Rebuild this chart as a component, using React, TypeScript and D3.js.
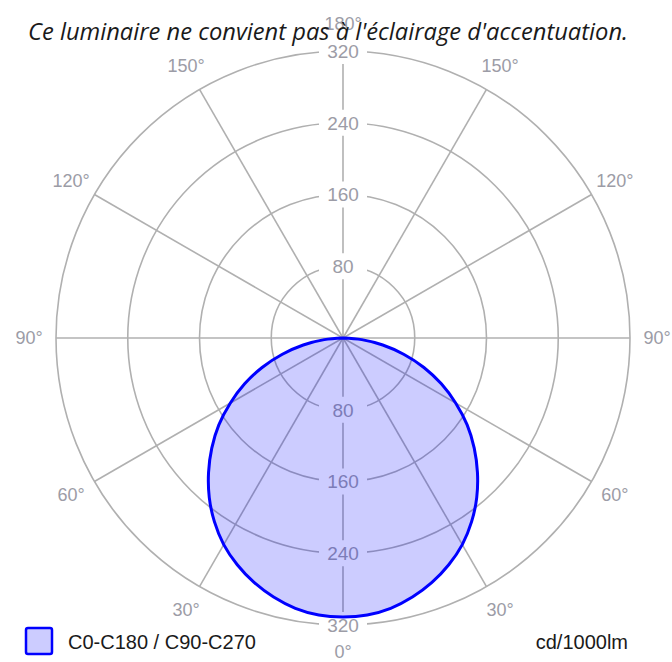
import React from 'react';
import * as d3 from 'd3';

// luminous intensity (cd/1000lm) against gamma angle, same for both C planes
const gammaAngles = [0, 5, 10, 15, 20, 25, 30, 35, 40, 45, 50, 55, 60, 65, 70, 75, 80, 85, 90];
const intensityC0C180 = [311, 310, 306, 299, 290, 279, 266, 250, 232, 212, 191, 169, 145, 121, 96, 70, 45, 21, 0];
const ringValues = [80, 160, 240, 320];
const spokeAngles = [0, 30, 60, 90, 120, 150, 180, 210, 240, 270, 300, 330];
const angleLabels = [0, 30, 60, 90, 120, 150, 180];

const title = "Ce luminaire ne convient pas à l'éclairage d'accentuation.";
const legendLabel = 'C0-C180 / C90-C270';
const unitLabel = 'cd/1000lm';

const W = 672;
const H = 662;
const cx = 343;
const cy = 338;
const R = 287;
const gridColor = '#b0b0b0';
const labelColor = '#9c9ca6';
const labelFont = '"Liberation Sans", Arial, sans-serif';

export default function App() {
  const r = d3.scaleLinear().domain([0, 320]).range([0, R]);
  const rad = (deg: number) => (deg * Math.PI) / 180;

  // gamma measured from straight down; lineRadial angle is from straight up
  const pts: [number, number][] = [];
  for (let i = gammaAngles.length - 1; i >= 0; i--) pts.push([Math.PI + rad(gammaAngles[i]), r(intensityC0C180[i])]);
  for (let i = 1; i < gammaAngles.length; i++) pts.push([Math.PI - rad(gammaAngles[i]), r(intensityC0C180[i])]);
  const curve = d3.lineRadial<[number, number]>()
    .angle((d) => d[0])
    .radius((d) => d[1])
    .curve(d3.curveCatmullRom)(pts) + 'Z';

  const labelR = R + 27;
  const angleLabelPos: { x: number; y: number; t: string }[] = [];
  angleLabels.forEach((g) => {
    const sides = g === 0 || g === 180 ? [1] : [-1, 1];
    sides.forEach((s) => {
      angleLabelPos.push({
        x: cx + s * labelR * Math.sin(rad(g)),
        y: cy + labelR * Math.cos(rad(g)),
        t: `${g}°`,
      });
    });
  });

  return (
    <svg width={W} height={H} style={{ position: 'absolute', left: 0, top: 0, background: '#fff' }}>
      {/* grid */}
      <g stroke={gridColor} strokeWidth={1.6} fill="none">
        {ringValues.map((v) => (
          <circle key={v} cx={cx} cy={cy} r={r(v)} />
        ))}
        {spokeAngles.map((a) => (
          <line
            key={a}
            x1={cx}
            y1={cy}
            x2={cx + R * Math.sin(rad(a))}
            y2={cy + R * Math.cos(rad(a))}
          />
        ))}
      </g>

      {/* ring labels with gaps in the grid */}
      {ringValues.map((v) =>
        [-1, 1].map((s) => (
          <g key={`${v}${s}`} transform={`translate(${cx},${cy + s * r(v)})`}>
            <rect x={-24} y={-13} width={48} height={26} fill="#fff" />
            <text
              textAnchor="middle"
              dy="0.36em"
              fontFamily={labelFont}
              fontSize={19}
              fill={labelColor}
            >
              {v}
            </text>
          </g>
        ))
      )}

      {angleLabelPos.map((d, i) => (
        <text
          key={i}
          x={d.x}
          y={d.y}
          dy="0.34em"
          textAnchor="middle"
          fontFamily={labelFont}
          fontSize={18}
          fill={labelColor}
        >
          {d.t}
        </text>
      ))}

      {/* distribution */}
      <g transform={`translate(${cx},${cy})`}>
        <path d={curve} fill="rgba(0,0,255,0.2)" stroke="#0000ff" strokeWidth={3} />
      </g>

      <text
        x={28}
        y={40}
        fontFamily='"Open Sans", sans-serif'
        fontStyle="italic"
        fontSize={23}
        fill="#1a1a1a"
        textLength={600}
        lengthAdjust="spacingAndGlyphs"
      >
        {title}
      </text>

      {/* legend */}
      <rect x={26} y={628} width={26} height={26} rx={2} fill="#ccccff" stroke="#0000ff" strokeWidth={2.5} />
      <text x={68} y={649} fontFamily={labelFont} fontSize={20} fill="#1a1a1a">
        {legendLabel}
      </text>
      <text x={628} y={649} textAnchor="end" fontFamily={labelFont} fontSize={20} fill="#1a1a1a">
        {unitLabel}
      </text>
    </svg>
  );
}
